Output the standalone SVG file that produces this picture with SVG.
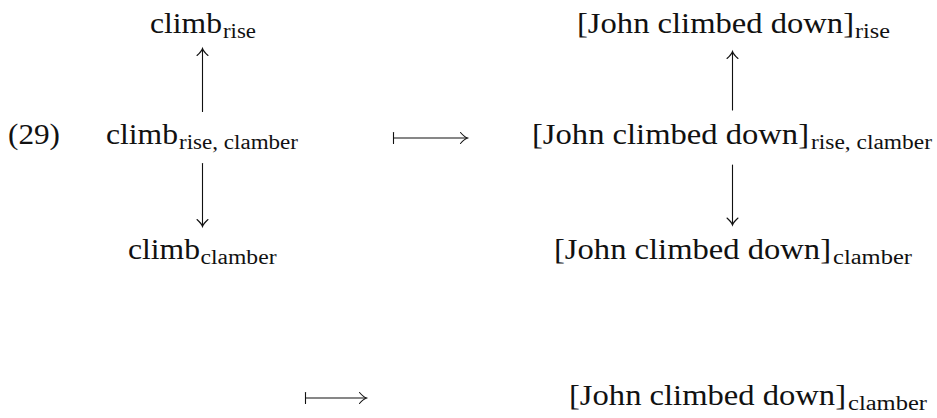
<svg xmlns="http://www.w3.org/2000/svg" width="937" height="418" viewBox="0 0 937 418">
  <style>
    .t { font-family: "Liberation Serif", "Times New Roman", serif; font-size: 29.5px; fill: #111; }
    .s { font-family: "Liberation Serif", "Times New Roman", serif; font-size: 20.5px; fill: #111; }
    .ln { stroke: #111; stroke-width: 1.1; fill: none; stroke-linecap: round; }
  </style>
  <defs>
    <!-- curved TeX-style arrow tips, drawn pointing right with the tip at the origin -->
    <path id="tip" d="M -7,-5.5 Q -3,-1 0,0 Q -3,1 -7,5.5" />
  </defs>

  <!-- example number -->
  <text class="t" x="8" y="143.5" textLength="52" lengthAdjust="spacingAndGlyphs">(29)</text>

  <!-- left column: word senses -->
  <g id="climb-rise">
    <text class="t" x="150" y="33" textLength="72" lengthAdjust="spacingAndGlyphs">climb</text>
    <text class="s" x="223" y="38" textLength="33" lengthAdjust="spacingAndGlyphs">rise</text>
  </g>
  <g id="climb-rise-clamber">
    <text class="t" x="106" y="143.5" textLength="72" lengthAdjust="spacingAndGlyphs">climb</text>
    <text class="s" x="179" y="148.5" textLength="119" lengthAdjust="spacingAndGlyphs">rise, clamber</text>
  </g>
  <g id="climb-clamber">
    <text class="t" x="128" y="259" textLength="72" lengthAdjust="spacingAndGlyphs">climb</text>
    <text class="s" x="200.5" y="264" textLength="76" lengthAdjust="spacingAndGlyphs">clamber</text>
  </g>

  <!-- right column: sentence readings -->
  <g id="sent-rise">
    <text class="t" x="577" y="33" textLength="277" lengthAdjust="spacingAndGlyphs">[John climbed down]</text>
    <text class="s" x="855" y="38" textLength="35" lengthAdjust="spacingAndGlyphs">rise</text>
  </g>
  <g id="sent-rise-clamber">
    <text class="t" x="532" y="143.5" textLength="277" lengthAdjust="spacingAndGlyphs">[John climbed down]</text>
    <text class="s" x="811" y="148.5" textLength="121" lengthAdjust="spacingAndGlyphs">rise, clamber</text>
  </g>
  <g id="sent-clamber">
    <text class="t" x="554" y="259" textLength="277" lengthAdjust="spacingAndGlyphs">[John climbed down]</text>
    <text class="s" x="833" y="264" textLength="79" lengthAdjust="spacingAndGlyphs">clamber</text>
  </g>
  <g id="sent-clamber-2">
    <text class="t" x="569" y="405" textLength="277" lengthAdjust="spacingAndGlyphs">[John climbed down]</text>
    <text class="s" x="848" y="410" textLength="79" lengthAdjust="spacingAndGlyphs">clamber</text>
  </g>

  <!-- connectors -->
  <g id="connectors">
    <!-- left column arrows -->
    <line class="ln" x1="202.5" y1="111.5" x2="202.5" y2="49" />
    <use href="#tip" class="ln" transform="translate(202.5,48.5) rotate(-90)" />
    <line class="ln" x1="202.5" y1="163.5" x2="202.5" y2="226" />
    <use href="#tip" class="ln" transform="translate(202.5,226.5) rotate(90)" />

    <!-- right column arrows -->
    <line class="ln" x1="732.5" y1="110" x2="732.5" y2="52" />
    <use href="#tip" class="ln" transform="translate(732.5,51.5) rotate(-90)" />
    <line class="ln" x1="732.5" y1="165" x2="732.5" y2="224.5" />
    <use href="#tip" class="ln" transform="translate(732.5,225) rotate(90)" />

    <!-- maps-to arrows -->
    <line class="ln" x1="393.5" y1="132.5" x2="393.5" y2="143.5" />
    <line class="ln" x1="393.5" y1="138" x2="467" y2="138" />
    <use href="#tip" class="ln" transform="translate(467.5,138)" />

    <line class="ln" x1="305.5" y1="392.5" x2="305.5" y2="403.5" />
    <line class="ln" x1="305.5" y1="398" x2="366" y2="398" />
    <use href="#tip" class="ln" transform="translate(366.5,398)" />
  </g>
</svg>
